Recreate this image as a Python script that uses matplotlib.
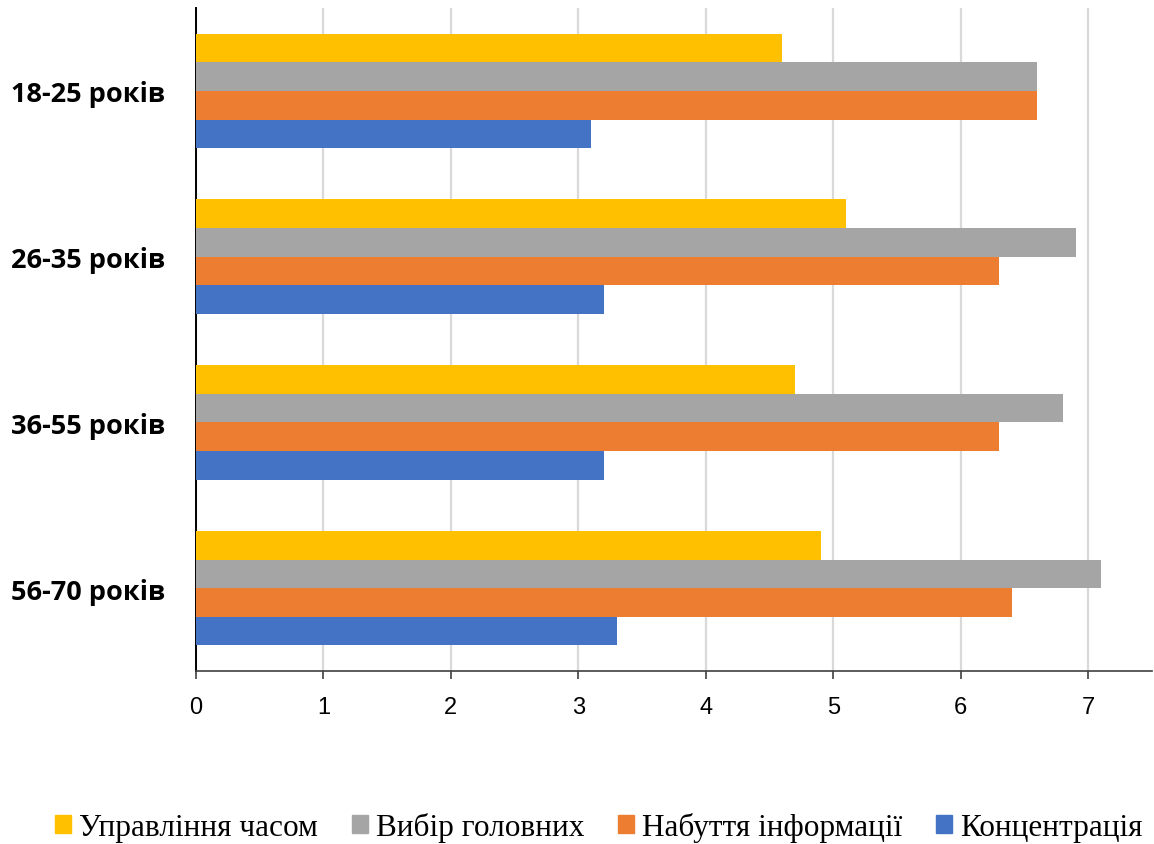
import matplotlib.pyplot as plt
import numpy as np
from matplotlib.patches import Patch

groups = ["18-25 років", "26-35 років", "36-55 років", "56-70 років"]
series = ["Управління часом", "Вибір головних", "Набуття інформації", "Концентрація"]
time_mgmt = [4.6, 5.1, 4.7, 4.9]
main_choice = [6.6, 6.9, 6.8, 7.1]
info = [6.6, 6.3, 6.3, 6.4]
focus = [3.1, 3.2, 3.2, 3.3]
colors = ["#ffc000", "#a5a5a5", "#ed7d31", "#4472c4"]


def main():
    fig = plt.figure(figsize=(11.54, 8.45), dpi=100)
    ax = fig.add_axes([0.1698, 0.2047, 0.8285, 0.7846])

    values = [time_mgmt, main_choice, info, focus]
    y = np.arange(len(groups))
    h = 0.1725
    # first series sits on top inside each group, last at the bottom
    for i, (vals, c) in enumerate(zip(values, colors)):
        offset = (i - 1.5) * h
        ax.barh(y + offset, vals, height=h, color=c, zorder=3)

    ax.set_ylim(len(groups) - 0.5, -0.5)
    ax.set_xlim(0, 7.5)
    ax.set_xticks(range(8))
    ax.set_yticks(y)
    ax.set_yticklabels(groups, fontsize=19.5, fontweight="bold",
                       family="Open Sans")
    ax.tick_params(axis="y", length=0, pad=22)
    ax.tick_params(axis="x", length=6, width=1.2, labelsize=17, pad=12,
                   color="#404040")
    for lbl in ax.get_xticklabels():
        lbl.set_family("Liberation Sans")

    ax.grid(axis="x", color="#d9d9d9", linewidth=1.6, zorder=0)
    for s in ["top", "right"]:
        ax.spines[s].set_visible(False)
    ax.spines["left"].set_linewidth(1.4)
    ax.spines["bottom"].set_linewidth(1.2)
    ax.spines["bottom"].set_color("#404040")

    handles = [Patch(color=c, label=s) for c, s in zip(colors, series)]
    fig.legend(handles=handles, loc="center", bbox_to_anchor=(0.519, 0.02),
               ncol=4, frameon=False,
               prop={"family": "Liberation Serif", "size": 22.5},
               handlelength=0.5, handleheight=0.5, handletextpad=0.26,
               columnspacing=1.09)

    fig.savefig("out.png", dpi=100)


if __name__ == "__main__":
    main()
